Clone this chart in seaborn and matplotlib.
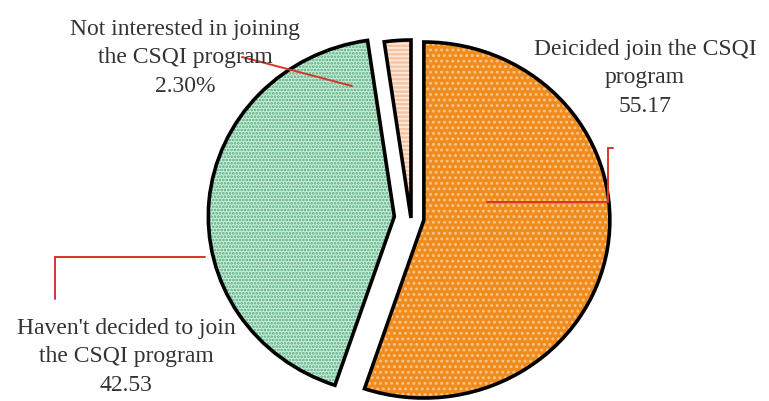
import matplotlib
matplotlib.use("Agg")
import matplotlib.pyplot as plt
from matplotlib.patches import Wedge
import seaborn as sns

# Survey answers about the CSQI program (percent of respondents)
categories = ["Deicided join the CSQI\nprogram",
              "Haven't decided to join\nthe CSQI program",
              "Not interested in joining\nthe CSQI program"]
shares = [55.17, 42.53, 2.30]
value_labels = ["55.17", "42.53", "2.30%"]

sns.set_theme(style="white")
plt.rcParams["font.family"] = ["Liberation Serif", "DejaVu Serif"]
plt.rcParams["hatch.linewidth"] = 1.3

fill_colors = ["#f08c1e", "#c9eed9", "#f6c4a2"]
hatch_colors = ["#f9c68a", "#55a97f", "#fde9da"]
hatches = ["...", ".....", "----"]
explode = [0.07, 0.09, 0.0]

W, H = 769, 402
fig = plt.figure(figsize=(W / 100, H / 100), dpi=100)
ax = fig.add_axes([0, 0, 1, 1])

wedges, _ = ax.pie(shares, startangle=90, counterclock=False, explode=explode,
                   colors=fill_colors, radius=1.0,
                   wedgeprops=dict(linewidth=0, edgecolor="none"))

# Hatch overlays and black outlines built from the pie's own wedges
for w, hc, hp in zip(wedges, hatch_colors, hatches):
    ax.add_patch(Wedge(w.center, w.r, w.theta1, w.theta2, facecolor="none",
                       edgecolor=hc, hatch=hp, linewidth=0, zorder=2))
    ax.add_patch(Wedge(w.center, w.r, w.theta1, w.theta2, fill=False,
                       edgecolor="black", linewidth=2.6, zorder=3,
                       joinstyle="miter"))

# Axes limits: pixels per unit horizontally / vertically, pie centre pixel
SX, SY, CX, CY = 186.0, 178.0, 411.0, 219.0
ax.set_aspect("auto")
ax.set_xlim(-CX / SX, (W - CX) / SX)
ax.set_ylim(-(H - CY) / SY, CY / SY)
ax.axis("off")


def px(x, y):
    return (x - CX) / SX, (CY - y) / SY


red = "#d9342b"
leaders = [
    [(487, 203), (608, 203), (608, 149), (613, 149)],
    [(205, 258), (55, 258), (55, 300)],
    [(352, 87), (242, 58)],
]
for pts in leaders:
    xs, ys = zip(*[px(*p) for p in pts])
    ax.plot(xs, ys, color=red, linewidth=1.4, zorder=4,
            solid_joinstyle="miter")

label_pos = [(645, 78), (126, 357), (185, 58)]
for cat, val, (lx, ly) in zip(categories, value_labels, label_pos):
    ax.text(*px(lx, ly), f"{cat}\n{val}", ha="center", va="center",
            fontsize=17, color="#333333", linespacing=1.45, zorder=5)

fig.savefig("out.png", dpi=100)
